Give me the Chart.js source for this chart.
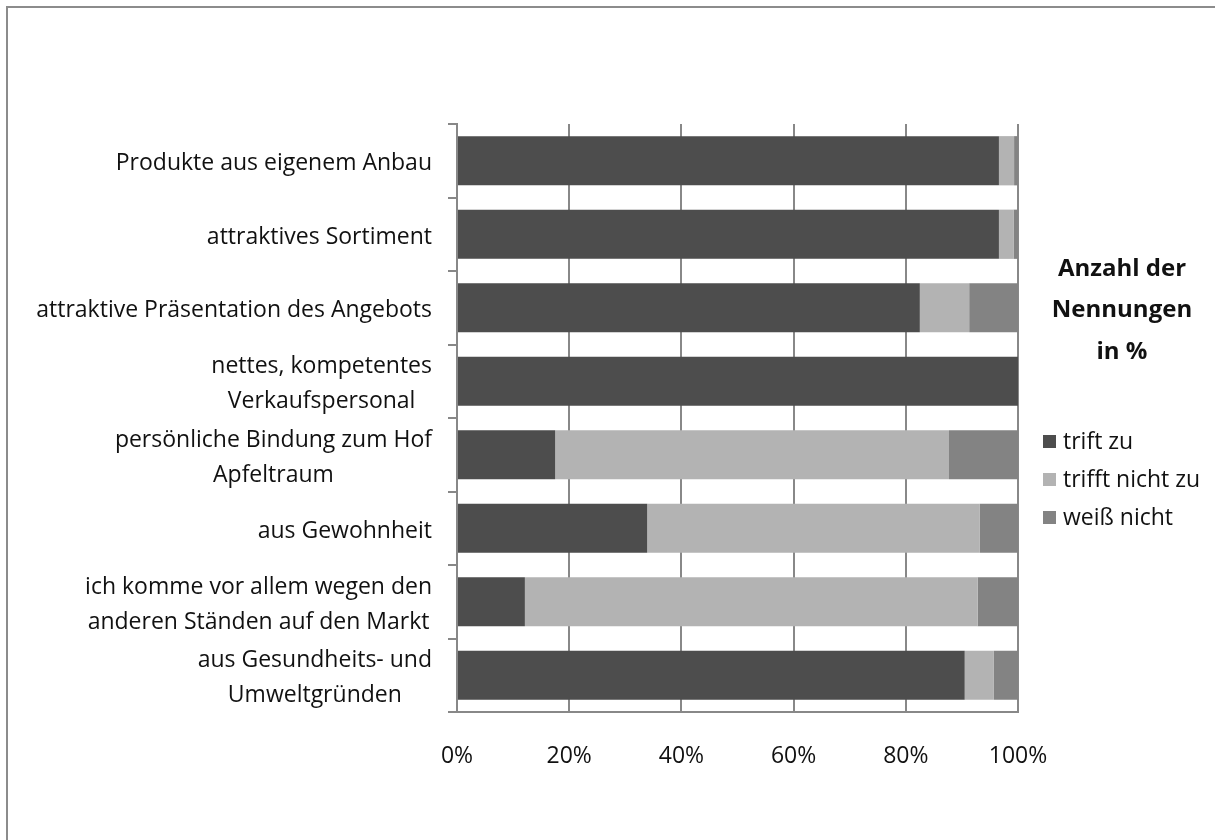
<!DOCTYPE html>
<html lang="de">
<head>
<meta charset="utf-8">
<title>Anzahl der Nennungen in %</title>
<script src="https://cdn.jsdelivr.net/npm/chart.js@4/dist/chart.umd.min.js"></script>
<style>
    html, body { margin: 0; padding: 0; background: #fff; }
    #chart-box { position: relative; width: 1215px; height: 840px; }
</style>
</head>
<body>
<div id="chart-box"><canvas id="gruende-chart"></canvas></div>
<script>
// Gründe für den Einkauf am Stand (Anteile in %)
const kategorien = [
    'Produkte aus eigenem Anbau',
    'attraktives Sortiment',
    'attraktive Präsentation des Angebots',
    ['nettes, kompetentes', 'Verkaufspersonal '],
    ['persönliche Bindung zum Hof', 'Apfeltraum'],
    'aus Gewohnheit',
    ['ich komme vor allem wegen den', 'anderen Ständen auf den Markt '],
    ['aus Gesundheits- und', 'Umweltgründen']
];
const trifftZu      = [96.6, 96.6, 82.5, 100, 17.5, 33.9, 12.1, 90.5];
const trifftNichtZu = [2.7, 2.6, 8.8, 0, 70.2, 59.3, 80.7, 5.2];
const weissNicht    = [0.7, 0.8, 8.7, 0, 12.3, 6.8, 7.2, 4.3];
const serienNamen   = ['trift zu', 'trifft nicht zu', 'weiß nicht'];
const legendenTitel = ['Anzahl der', 'Nennungen', 'in %'];
const xTicks        = [0, 20, 40, 60, 80, 100];

const FONT = '"Open Sans", sans-serif';
const FONT_SIZE = 23;

// Rahmen oben und links
const rahmenPlugin = {
    id: 'rahmen',
    beforeDraw: function(chart) {
        const ctx = chart.ctx;
        ctx.save();
        ctx.strokeStyle = '#8c8c8c';
        ctx.lineWidth = 2;
        ctx.beginPath();
        ctx.moveTo(7, chart.height);
        ctx.lineTo(7, 7);
        ctx.lineTo(chart.width, 7);
        ctx.stroke();
        ctx.restore();
    }
};

// Kategorienbeschriftung: jede Zeile im eigenen Block zentriert, Block rechtsbündig
const kategorienPlugin = {
    id: 'kategorien',
    afterDraw: function(chart) {
        const ctx = chart.ctx;
        const yScale = chart.scales.y;
        const rechts = yScale.right - 25;
        const zeilenAbstand = 35;
        ctx.save();
        ctx.font = FONT_SIZE + 'px ' + FONT;
        ctx.fillStyle = '#111';
        ctx.textAlign = 'center';
        ctx.textBaseline = 'middle';
        chart.data.labels.forEach(function(label, i) {
            const zeilen = Array.isArray(label) ? label : [label];
            const breite = Math.max.apply(null, zeilen.map(z => ctx.measureText(z.trim()).width));
            const cx = rechts - breite / 2;
            const cy = yScale.getPixelForValue(i) + 3;
            const start = cy - (zeilen.length - 1) * zeilenAbstand / 2;
            zeilen.forEach(function(z, k) {
                ctx.fillText(z.trim(), cx, start + k * zeilenAbstand);
            });
        });
        ctx.restore();
    }
};

// Legende rechts mit mehrzeiligem Titel
const legendePlugin = {
    id: 'legende',
    afterDraw: function(chart) {
        const ctx = chart.ctx;
        const links = chart.chartArea.right + 25;
        ctx.save();
        ctx.fillStyle = '#111';
        ctx.textBaseline = 'middle';
        ctx.font = 'bold 24px ' + FONT;
        ctx.textAlign = 'center';
        legendenTitel.forEach(function(t, k) {
            ctx.fillText(t, links + 79, 269 + k * 41.5);
        });
        ctx.font = FONT_SIZE + 'px ' + FONT;
        ctx.textAlign = 'left';
        chart.data.datasets.forEach(function(ds, k) {
            const y = 441 + k * 38;
            ctx.fillStyle = ds.backgroundColor;
            ctx.fillRect(links, y - 6, 13, 13);
            ctx.fillStyle = '#111';
            ctx.fillText(ds.label, links + 20, y + 1);
        });
        ctx.restore();
    }
};

const GruendeChart = {
    init: function(canvasId) {
        this.ctx = document.getElementById(canvasId).getContext('2d');
        this.render();
    },

    render: function() {
        const farben = ['#4d4d4d', '#b3b3b3', '#838383'];
        const werte = [trifftZu, trifftNichtZu, weissNicht];

        this.chart = new Chart(this.ctx, {
            type: 'bar',
            data: {
                labels: kategorien,
                datasets: serienNamen.map(function(name, k) {
                    return {
                        label: name,
                        data: werte[k],
                        backgroundColor: farben[k],
                        borderWidth: 0,
                        barPercentage: 0.67,
                        categoryPercentage: 1.0
                    };
                })
            },
            options: {
                indexAxis: 'y',
                responsive: true,
                maintainAspectRatio: false,
                animation: false,
                layout: {
                    padding: { top: 124, right: 197, left: 0, bottom: 0 }
                },
                scales: {
                    x: {
                        stacked: true,
                        min: 0,
                        max: 100,
                        afterBuildTicks: function(scale) {
                            scale.ticks = xTicks.map(v => ({ value: v }));
                        },
                        afterFit: function(scale) {
                            scale.height = 128;
                        },
                        grid: {
                            color: '#888',
                            lineWidth: 2,
                            drawTicks: false
                        },
                        border: { color: '#888', width: 2 },
                        ticks: {
                            padding: 31,
                            color: '#111',
                            font: { family: FONT, size: FONT_SIZE },
                            callback: function(v) { return v + '%'; }
                        }
                    },
                    y: {
                        stacked: true,
                        afterFit: function(scale) {
                            scale.width = 457;
                        },
                        grid: {
                            offset: true,
                            drawOnChartArea: false,
                            drawTicks: true,
                            tickLength: 9,
                            color: '#888',
                            lineWidth: 2
                        },
                        border: { color: '#888', width: 2 },
                        ticks: { display: false }
                    }
                },
                plugins: {
                    legend: { display: false },
                    tooltip: { enabled: false }
                }
            },
            plugins: [rahmenPlugin, kategorienPlugin, legendePlugin]
        });
    }
};

GruendeChart.init('gruende-chart');
</script>
</body>
</html>
